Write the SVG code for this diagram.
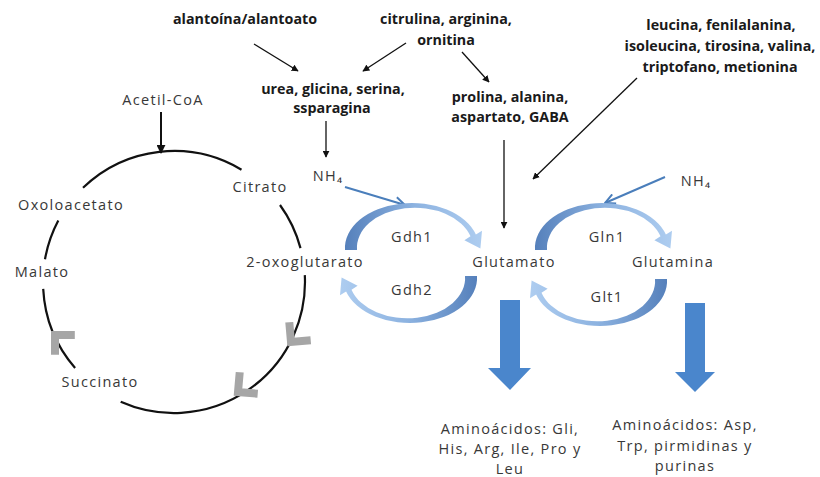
<svg xmlns="http://www.w3.org/2000/svg" width="820" height="477" viewBox="0 0 820 477">
<defs>
<style>
.t{font-family:"Open Sans","Liberation Sans",sans-serif;font-size:14.5px;fill:#383838;letter-spacing:1.3px;text-anchor:middle}
.b{font-family:"Open Sans","Liberation Sans",sans-serif;font-size:14.3px;font-weight:bold;fill:#1a1a1a;text-anchor:middle}
.ln{fill:none;stroke:#111;stroke-width:1.3}
.cyc{fill:none;stroke:#111;stroke-width:2.2}
.chev{fill:none;stroke:#a6a6a6;stroke-width:8;stroke-linejoin:miter}
.nh{fill:none;stroke:#4a7ebb;stroke-width:2}
.big{fill:#4a86cc}
</style>
<marker id="ah" viewBox="0 0 10 10" refX="9" refY="5" markerWidth="7" markerHeight="7" markerUnits="userSpaceOnUse" orient="auto">
<path d="M0,0 L10,5 L0,10 z" fill="#111"/>
</marker>
<marker id="ahb" viewBox="0 0 10 10" refX="9" refY="5" markerWidth="9" markerHeight="9" markerUnits="userSpaceOnUse" orient="auto">
<path d="M0,0 L10,5 L0,10 z" fill="#111"/>
</marker>
<marker id="ahn" viewBox="0 0 12 12" refX="11" refY="6" markerWidth="12" markerHeight="12" markerUnits="userSpaceOnUse" orient="auto">
<path d="M1,1 L11,6 L1,11" fill="none" stroke="#4a7ebb" stroke-width="2"/>
</marker>
<linearGradient id="gU" x1="0" y1="0" x2="1" y2="0">
<stop offset="0" stop-color="#5580bb"/>
<stop offset="0.5" stop-color="#8cb2e0"/>
<stop offset="1" stop-color="#aecdf0"/>
</linearGradient>
<path id="carc" d="M345,250 A67,45 0 0 1 475.9,234.6 L482,230.7 L480.4,248.6 L464.4,240.3 L470.5,236.3 A58,40 0 0 0 357,250 Z"/>
</defs>
<rect width="820" height="477" fill="#fff"/>

<g id="connectors">
<line class="ln" x1="254" y1="44" x2="298" y2="71" marker-end="url(#ah)"/>
<line class="ln" x1="406" y1="43" x2="363" y2="71" marker-end="url(#ah)"/>
<line class="ln" x1="462" y1="52" x2="489" y2="82" marker-end="url(#ah)"/>
<line class="ln" x1="326" y1="121" x2="326" y2="157" marker-end="url(#ah)"/>
<line class="ln" x1="504" y1="140" x2="504" y2="228" marker-end="url(#ah)"/>
<line class="ln" x1="637" y1="78" x2="533" y2="179" marker-end="url(#ah)"/>
<line x1="161" y1="112" x2="161" y2="153" stroke="#111" stroke-width="2" marker-end="url(#ahb)"/>
<line class="nh" x1="345" y1="187" x2="405" y2="205" marker-end="url(#ahn)"/>
<line class="nh" x1="665" y1="177" x2="605" y2="203" marker-end="url(#ahn)"/>
<use href="#carc" fill="url(#gU)"/>
<use href="#carc" fill="url(#gU)" transform="rotate(180 411 263)"/>
<use href="#carc" fill="url(#gU)" transform="translate(190 0)"/>
<use href="#carc" fill="url(#gU)" transform="translate(190 3) rotate(180 411 263)"/>
<path class="big" d="M500,300 H520 V368 H531 L510,390 L488,368 H500 Z"/>
<path class="big" d="M685,303 H705 V372 H715 L695,392 L675,372 H685 Z"/>
</g>

<g id="cycle">
<path class="cyc" d="M83,187.8 A131,131 0 0 1 241.5,169.7"/>
<path class="cyc" d="M280,205 A131,131 0 0 1 300.5,248.1"/>
<path class="cyc" d="M304.8,275.1 A131,131 0 0 1 120.7,401.7"/>
<path class="cyc" d="M75.1,368 A131,131 0 0 1 43.2,288.9"/>
<path class="cyc" d="M45,259.3 A131,131 0 0 1 58.3,220.5"/>
<polyline class="chev" points="-14,-14 0,0 -14,14" transform="translate(291 342) rotate(130)"/>
<polyline class="chev" points="-14,-14 0,0 -14,14" transform="translate(238 392) rotate(140)"/>
<polyline class="chev" points="-14,-14 0,0 -14,14" transform="translate(55 335) rotate(225)"/>
</g>

<g id="n-alantoina"><text class="b" x="245" y="24">alantoína/alantoato</text></g>
<g id="n-citrulina"><text class="b" x="446" y="24">citrulina, arginina,</text><text class="b" x="446" y="45">ornitina</text></g>
<g id="n-leucina"><text class="b" x="721" y="30">leucina, fenilalanina,</text><text class="b" x="720" y="51">isoleucina, tirosina, valina,</text><text class="b" x="720" y="72">triptofano, metionina</text></g>
<g id="n-urea"><text class="b" x="333" y="94">urea, glicina, serina,</text><text class="b" x="332" y="113">ssparagina</text></g>
<g id="n-prolina"><text class="b" x="510" y="102">prolina, alanina,</text><text class="b" x="510" y="122">aspartato, GABA</text></g>
<g id="n-acetil"><text class="t" x="163" y="105">Acetil-CoA</text></g>
<g id="n-citrato"><text class="t" x="260" y="192">Citrato</text></g>
<g id="n-oxalo"><text class="t" x="71" y="210">Oxoloacetato</text></g>
<g id="n-malato"><text class="t" x="42" y="277">Malato</text></g>
<g id="n-succinato"><text class="t" x="100" y="387">Succinato</text></g>
<g id="n-oxoglu"><text class="t" x="305" y="267">2-oxoglutarato</text></g>
<g id="n-nh4a"><text class="t" x="328" y="181">NH₄</text></g>
<g id="n-nh4b"><text class="t" x="696" y="186">NH₄</text></g>
<g id="n-gdh1"><text class="t" x="412" y="242">Gdh1</text></g>
<g id="n-gdh2"><text class="t" x="412" y="295">Gdh2</text></g>
<g id="n-glutamato"><text class="t" x="514" y="267">Glutamato</text></g>
<g id="n-gln1"><text class="t" x="607" y="242">Gln1</text></g>
<g id="n-glt1"><text class="t" x="607" y="302">Glt1</text></g>
<g id="n-glutamina"><text class="t" x="673" y="267">Glutamina</text></g>
<g id="n-amino1"><text class="t" x="510" y="434">Aminoácidos: Gli,</text><text class="t" x="510" y="454">His, Arg, Ile, Pro y</text><text class="t" x="510" y="474">Leu</text></g>
<g id="n-amino2"><text class="t" x="685" y="430">Aminoácidos: Asp,</text><text class="t" x="685" y="451">Trp, pirmidinas y</text><text class="t" x="685" y="471">purinas</text></g>
</svg>
